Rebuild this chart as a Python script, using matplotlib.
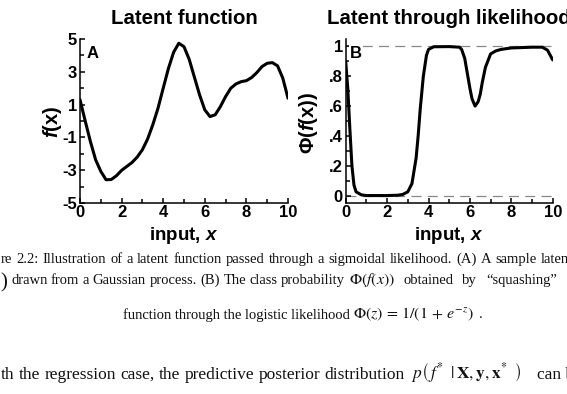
import matplotlib.pyplot as plt
from matplotlib.ticker import MultipleLocator

plt.rcParams['font.family'] = 'Liberation Sans'
plt.rcParams['axes.unicode_minus'] = False
plt.rcParams['mathtext.fontset'] = 'custom'
plt.rcParams['mathtext.it'] = 'Liberation Sans:italic:bold'
plt.rcParams['mathtext.rm'] = 'Liberation Sans:bold'

# panel A: latent function f(x)
x_a = [0, 0.25, 0.5, 0.75, 1.0, 1.25, 1.5, 1.75, 2.0, 2.25, 2.5, 2.75, 3.0,
       3.25, 3.5, 3.75, 4.0, 4.25, 4.5, 4.75, 5.0, 5.25, 5.5, 5.75, 6.0,
       6.25, 6.5, 6.75, 7.0, 7.25, 7.5, 7.75, 8.0, 8.25, 8.5, 8.75, 9.0,
       9.25, 9.5, 9.75, 10.0]
f_a = [1.3, 0.0, -1.25, -2.36, -3.07, -3.58, -3.57, -3.34, -3.01, -2.77,
       -2.53, -2.2, -1.75, -1.1, -0.23, 0.78, 2.0, 3.2, 4.19, 4.74, 4.53,
       3.76, 2.67, 1.59, 0.68, 0.27, 0.38, 0.88, 1.49, 2.0, 2.26, 2.4,
       2.46, 2.65, 2.95, 3.32, 3.52, 3.56, 3.36, 2.61, 1.39]

# panel B: latent squashed through the likelihood
x_b = [0, 0.1, 0.2, 0.3, 0.4, 0.5, 0.75, 1.0, 1.5, 2.0, 2.5, 2.75, 3.0,
       3.2, 3.4, 3.5, 3.6, 3.75, 3.9, 4.0, 4.25, 5.0, 5.5, 5.6, 5.75, 5.9,
       6.0, 6.1, 6.25, 6.4, 6.5, 6.6, 6.75, 7.0, 7.25, 7.5, 8.0, 9.0, 9.5,
       9.75, 10.0]
p_b = [0.9, 0.72, 0.45, 0.2, 0.07, 0.025, 0.005, 0.0, 0.0, 0.0, 0.002,
       0.007, 0.025, 0.08, 0.25, 0.4, 0.58, 0.8, 0.94, 0.98, 0.998, 0.999,
       0.995, 0.98, 0.92, 0.8, 0.72, 0.65, 0.6, 0.63, 0.68, 0.76, 0.86,
       0.95, 0.97, 0.98, 0.99, 0.995, 0.995, 0.975, 0.91]

x_ticks = [0, 2, 4, 6, 8, 10]
a_ticks = [-5, -3, -1, 1, 3, 5]
b_ticks = [0, 0.2, 0.4, 0.6, 0.8, 1.0]
b_tick_labels = ['0', '.2', '.4', '.6', '.8', '1']

W, H = 567, 394
fig = plt.figure(figsize=(W / 100, H / 100), dpi=100)

axA = fig.add_axes([80 / W, 1 - 203 / H, 208 / W, 164 / H])
axB = fig.add_axes([345.7 / W, 1 - 203 / H, 207 / W, 164 / H])


def style(ax):
    for s in ['top', 'right']:
        ax.spines[s].set_visible(False)
    for s in ['left', 'bottom']:
        ax.spines[s].set_linewidth(1.1)
    ax.tick_params(which='both', direction='in', width=1.1, labelsize=12)
    ax.tick_params(which='major', length=3.5)
    ax.tick_params(which='minor', length=2.8)
    ax.tick_params(axis='x', pad=1.5)
    ax.tick_params(axis='y', pad=2)
    ax.set_xlim(0, 10)
    ax.set_xticks(x_ticks)
    ax.set_xticklabels([str(t) for t in x_ticks], fontweight='bold')
    ax.xaxis.set_minor_locator(MultipleLocator(1))


axA.plot(x_a, f_a, color='black', lw=2.2, solid_capstyle='round')
style(axA)
axA.set_ylim(-5, 5)
axA.set_yticks(a_ticks)
axA.set_yticklabels([str(t) for t in a_ticks], fontweight='bold')
axA.yaxis.set_minor_locator(MultipleLocator(1))
axA.text(0.034, 0.884, 'A', transform=axA.transAxes, fontsize=12, fontweight='bold')

axB.axhline(0, color='#888888', lw=0.9, dashes=(8, 5), zorder=1)
axB.axhline(1, color='#888888', lw=0.9, dashes=(8, 5), zorder=1)
axB.plot(x_b, p_b, color='black', lw=2.2, zorder=3, solid_capstyle='round')
style(axB)
axB.set_ylim(-0.05, 1.05)
axB.set_yticks(b_ticks)
axB.set_yticklabels(b_tick_labels, fontweight='bold')
axB.yaxis.set_minor_locator(MultipleLocator(0.1))
axB.text(0.021, 0.884, 'B', transform=axB.transAxes, fontsize=12, fontweight='bold',
         zorder=5, bbox=dict(facecolor='white', edgecolor='none', pad=0.5))

# titles and axis labels
bold = dict(fontweight='bold')
fig.text(184 / W, 1 - 24 / H, 'Latent function', ha='center', va='baseline', fontsize=14.7, **bold)
fig.text(449 / W, 1 - 24 / H, 'Latent through likelihood', ha='center', va='baseline', fontsize=14.7, **bold)
fig.text(184 / W, 1 - 240 / H, 'input, $x$', ha='center', va='baseline', fontsize=13.5, **bold)
fig.text(449 / W, 1 - 240 / H, 'input, $x$', ha='center', va='baseline', fontsize=13.5, **bold)
fig.text(53 / W, 1 - 122 / H, '$f$(x)', rotation=90, ha='center', va='center', fontsize=14.5, **bold)
fig.text(308 / W, 1 - 123 / H, 'Φ($f$(x))', rotation=90, ha='center', va='center', fontsize=14.5, **bold)

# caption and body text below the figure
serif = dict(family='Liberation Serif', weight='normal', va='baseline',
             math_fontfamily='stix', color='#111111')
renderer = fig.canvas.get_renderer()


def put(x, y, s, size=10.5):
    return fig.text(x / W, 1 - y / H, s, fontsize=size, **serif)


def justify(x0, x1, y, line, size=10.5):
    # spread the words of a justified line between x0 and x1 (pixels)
    words = [put(x0, y, w, size) for w in line.split()]
    widths = [t.get_window_extent(renderer).width for t in words]
    gap = (x1 - x0 - sum(widths)) / (len(words) - 1)
    x = x0
    for t, w in zip(words, widths):
        t.set_x(x / W)
        x += w + gap


justify(0.5, 573, 263, 're 2.2: Illustration of a latent function passed through a '
        'sigmoidal likelihood. (A) A sample latent')
put(0, 287, ')', size=15)
justify(11, 345, 284, 'drawn from a Gaussian process. (B) The class probability')
put(349, 284, r'$\Phi\left(f\left(x\right)\right)$', size=11.5)
justify(403, 557, 284, 'obtained by “squashing”')
put(123.3, 318.5, 'function through the logistic likelihood')
put(353, 318.5, r'$\Phi\left(z\right)\,=\,1/\left(1\,+\,e^{-z}\right)$', size=11.5)
put(479, 318.5, '.')
justify(0.5, 405, 379, 'th the regression case, the predictive posterior distribution', size=12.5)
put(411, 379, r'$p\left(\,f^{*}\;\;|\,\mathbf{X},\mathbf{y},\mathbf{x}^{*}\;\;\right)$', size=12.5)
put(537, 379, 'can be', size=12.5)

fig.savefig('out.png', dpi=100)
